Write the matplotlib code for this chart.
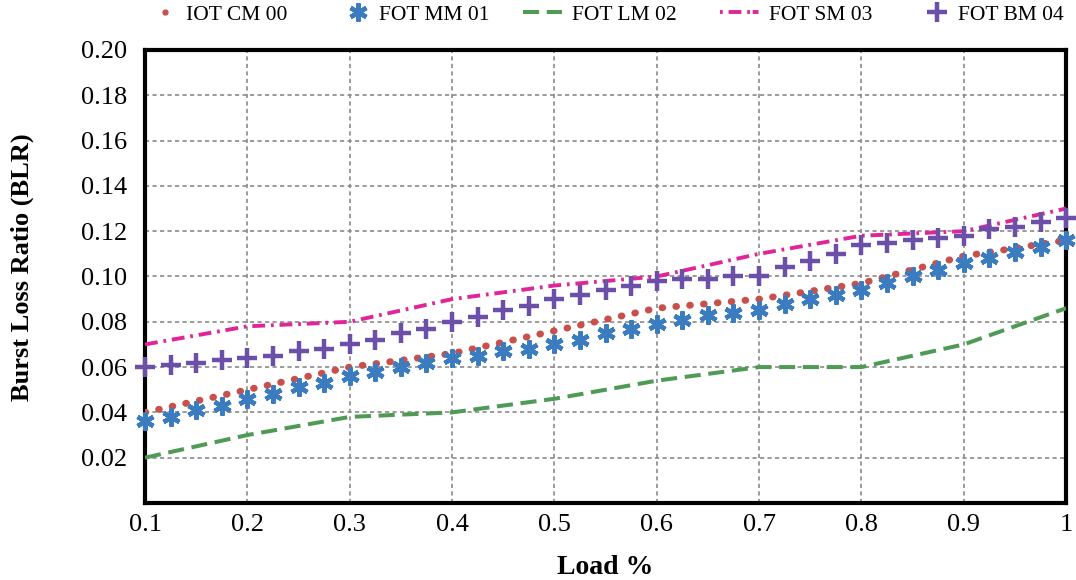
import numpy as np
import matplotlib
matplotlib.use("Agg")
import matplotlib.pyplot as plt
from matplotlib.lines import Line2D

# dense series (markers every 0.025)
load_fine = [0.1, 0.125, 0.15, 0.175, 0.2, 0.225, 0.25, 0.275, 0.3, 0.325, 0.35,
             0.375, 0.4, 0.425, 0.45, 0.475, 0.5, 0.525, 0.55, 0.575, 0.6, 0.625,
             0.65, 0.675, 0.7, 0.725, 0.75, 0.775, 0.8, 0.825, 0.85, 0.875, 0.9,
             0.925, 0.95, 0.975, 1.0]
fot_mm_01 = [0.036, 0.038, 0.041, 0.043, 0.046, 0.048, 0.051, 0.053, 0.056, 0.058,
             0.060, 0.062, 0.064, 0.065, 0.067, 0.068, 0.070, 0.072, 0.075, 0.077,
             0.079, 0.081, 0.083, 0.084, 0.085, 0.088, 0.090, 0.092, 0.094, 0.097,
             0.100, 0.103, 0.106, 0.108, 0.111, 0.113, 0.116]
fot_bm_04 = [0.060, 0.061, 0.062, 0.063, 0.064, 0.065, 0.067, 0.068, 0.070, 0.072,
             0.075, 0.077, 0.080, 0.082, 0.085, 0.087, 0.090, 0.092, 0.094, 0.096,
             0.098, 0.099, 0.099, 0.100, 0.100, 0.104, 0.107, 0.110, 0.114, 0.115,
             0.116, 0.117, 0.118, 0.121, 0.122, 0.124, 0.126]

# line series (every 0.1)
load = [0.1, 0.2, 0.3, 0.4, 0.5, 0.6, 0.7, 0.8, 0.9, 1.0]
iot_cm_00 = [0.040, 0.050, 0.060, 0.066, 0.076, 0.086, 0.090, 0.097, 0.109, 0.116]
fot_lm_02 = [0.020, 0.030, 0.038, 0.040, 0.046, 0.054, 0.060, 0.060, 0.070, 0.086]
fot_sm_03 = [0.070, 0.078, 0.080, 0.090, 0.096, 0.100, 0.110, 0.118, 0.120, 0.130]

x_ticks = [0.1, 0.2, 0.3, 0.4, 0.5, 0.6, 0.7, 0.8, 0.9, 1.0]
x_labels = ["0.1", "0.2", "0.3", "0.4", "0.5", "0.6", "0.7", "0.8", "0.9", "1"]
y_ticks = [0.02, 0.04, 0.06, 0.08, 0.10, 0.12, 0.14, 0.16, 0.18, 0.20]

c_red = "#c9504a"
c_blue = "#3b7cc0"
c_green = "#4f9b55"
c_pink = "#e0259a"
c_purple = "#6c4fa8"
dotted = (0, (0.1, 1.9))
dashed = (0, (4.0, 1.9))
dashdot = (0, (3.3, 1.5, 0.7, 1.5))

plt.rcParams["font.family"] = ["Liberation Serif", "DejaVu Serif"]

fig = plt.figure(figsize=(10.76, 5.8), dpi=100)
ax = fig.add_axes([0.1348, 0.1328, 0.856, 0.781])

ax.plot(load, iot_cm_00, linestyle=dotted, dash_capstyle="round",
        color=c_red, lw=5, zorder=3)
ax.plot(load_fine, fot_mm_01, linestyle="none", marker=(6, 2, 0), ms=13, mew=3.2,
        color=c_blue, zorder=4, clip_on=False)
ax.plot(load, fot_lm_02, linestyle=dashed, color=c_green, lw=2.9, zorder=3)
ax.plot(load, fot_sm_03, linestyle=dashdot, color=c_pink, lw=2.8, zorder=3)
ax.plot(load_fine, fot_bm_04, linestyle="none", marker="+", ms=15, mew=3.2,
        color=c_purple, zorder=4, clip_on=False)

ax.set_xlim(0.1, 1.0)
ax.set_ylim(0, 0.2)
ax.set_xticks(x_ticks)
ax.set_xticklabels(x_labels)
ax.set_yticks(y_ticks)
ax.set_yticklabels(["%.2f" % v for v in y_ticks])
ax.tick_params(length=0, labelsize=19)
ax.tick_params(axis="y", pad=13)
ax.tick_params(axis="x", pad=8)
ax.grid(True, color="#8a8a8a", linestyle=(0, (2.5, 2)), lw=1.2)
for s in ax.spines.values():
    s.set_linewidth(3)
    s.set_color("black")

ax.set_xlabel("Load %", fontsize=20, fontweight="bold")
ax.xaxis.set_label_coords(0.5, -0.115)
ax.set_ylabel("Burst Loss Ratio (BLR)", fontsize=19, fontweight="bold")
ax.yaxis.set_label_coords(-0.121, 0.52)

# legend entries placed one by one along the top
entries = [
    (Line2D([], [], linestyle="none", marker="o", ms=3.5, color=c_red), "IOT CM 00", 154, 1.0),
    (Line2D([], [], linestyle="none", marker=(6, 2, 0), ms=13, mew=3.2, color=c_blue), "FOT MM 01", 347, 1.0),
    (Line2D([], [], linestyle=dashed, lw=2.9, color=c_green), "FOT LM 02", 523, 1.8),
    (Line2D([], [], linestyle=(0, (0.7, 1.5, 3.3, 1.5, 0.7)), lw=2.8, color=c_pink), "FOT SM 03", 720, 1.8),
    (Line2D([], [], linestyle="none", marker="+", ms=15, mew=3.2, color=c_purple), "FOT BM 04", 926, 1.0),
]
for h, lab, xpx, hl in entries:
    fig.legend(handles=[h], labels=[lab], loc="center left",
               bbox_to_anchor=(xpx / 1076, 1 - 15 / 580), frameon=False,
               fontsize=15.5, handlelength=hl, handletextpad=0.47,
               borderpad=0, borderaxespad=0)

fig.savefig("out.png", dpi=100)
